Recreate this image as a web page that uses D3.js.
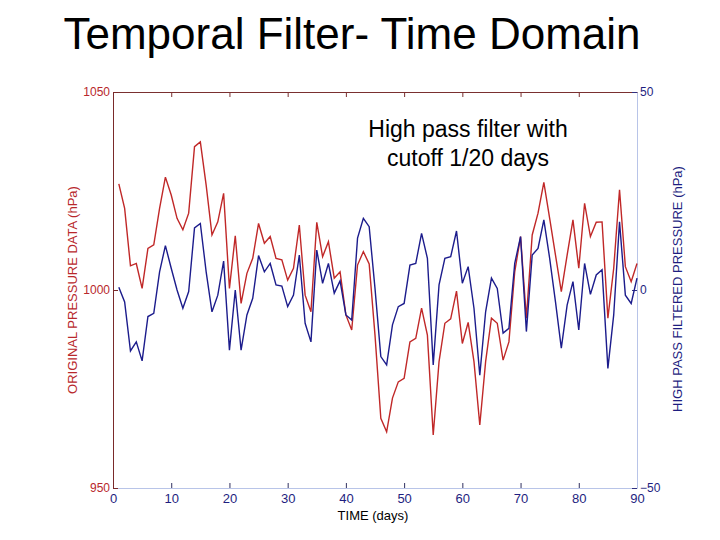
<!DOCTYPE html>
<html>
<head>
<meta charset="utf-8">
<script src="https://cdn.jsdelivr.net/npm/d3@7"></script>
<style>
  body { margin: 0; background: #fff; }
  svg { font-family: "Liberation Sans", Arial, sans-serif; }
</style>
</head>
<body>
<svg id="chart" width="720" height="540"></svg>
<script>
// 元の気圧データ (hPa), day 1..90
var original = [
  1026.8, 1020.6, 1006.1, 1006.7, 1000.4, 1010.5, 1011.4, 1020.6, 1028.5, 1024.0,
  1018.1, 1015.2, 1019.4, 1036.2, 1037.4, 1026.5, 1013.9, 1017.2, 1024.4, 1000.4,
  1013.7, 996.6, 1004.2, 1008.0, 1016.8, 1011.8, 1013.5, 1008.0, 1007.6, 1002.5,
  1005.5, 1016.4, 998.7, 994.5, 1017.1, 1008.4, 1012.2, 1003.0, 1004.6, 993.7,
  989.9, 1006.3, 1009.7, 1006.6, 988.6, 967.6, 964.2, 972.7, 976.8, 977.7,
  986.9, 987.8, 995.4, 988.6, 963.4, 981.9, 991.6, 992.7, 999.7, 986.5,
  991.8, 981.9, 965.9, 981.9, 992.9, 991.6, 982.3, 986.9, 1004.6, 1013.5,
  992.9, 1013.9, 1019.4, 1027.2, 1018.1, 1008.8, 999.6, 1008.8, 1017.7, 1005.5,
  1021.9, 1013.5, 1017.1, 1017.2, 992.9, 1005.5, 1025.3, 1005.9, 1002.1, 1006.7
];

// ハイパスフィルタ後 (hPa)
var filtered = [
  0.7, -3.0, -15.4, -13.1, -17.9, -6.7, -5.9, 4.6, 11.2, 5.5,
  0.0, -4.6, -0.4, 15.7, 16.8, 4.6, -5.5, -1.3, 7.3, -15.2,
  0.0, -15.2, -6.3, -2.1, 8.7, 4.6, 6.7, 1.3, 1.0, -4.2,
  -1.3, 8.8, -8.4, -13.1, 10.1, 1.7, 6.7, -0.8, 2.3, -6.3,
  -7.6, 13.1, 18.1, 16.0, 0.4, -16.8, -18.9, -8.8, -4.2, -3.4,
  6.3, 6.7, 14.3, 8.0, -18.9, 1.3, 8.0, 8.4, 14.9, 1.7,
  5.9, -4.6, -21.5, -5.5, 3.0, 0.4, -10.9, -9.7, 6.7, 13.5,
  -10.5, 8.8, 10.5, 17.7, 8.0, -3.0, -14.7, -3.8, 2.1, -10.1,
  6.7, -1.1, 3.8, 5.1, -19.8, -6.3, 17.2, -1.3, -3.4, 3.0
];

var days = d3.range(1, 91);

// 目盛り
var xTicks = [0, 10, 20, 30, 40, 50, 60, 70, 80, 90];
var leftTicks = [950, 1000, 1050];
var rightTicks = [-50, 0, 50];

var redLine = "#c02828";
var blueLine = "#1c1c8c";
var redText = "#b8282c";
var blueText = "#1e1e80";

var svg = d3.select("#chart");

var x = d3.scaleLinear().domain([0, 90]).range([113, 637]);
var yL = d3.scaleLinear().domain([950, 1050]).range([488, 92]);
var yR = d3.scaleLinear().domain([-50, 50]).range([488, 92]);

// タイトル
svg.append("text")
  .attr("x", 352)
  .attr("y", 49)
  .attr("text-anchor", "middle")
  .attr("font-size", 44)
  .attr("fill", "#000")
  .text("Temporal Filter- Time Domain");

// 軸
var axB = svg.append("g")
  .attr("transform", "translate(0,488)")
  .call(d3.axisBottom(x).tickValues(xTicks).tickSize(-5).tickSizeOuter(0).tickPadding(6));
axB.select(".domain").attr("stroke", "#b8c4e8");
axB.selectAll(".tick line").attr("stroke", "#303060");
axB.selectAll(".tick text").attr("fill", blueText).attr("font-size", 13).attr("font-family", "Liberation Sans");

var axT = svg.append("g")
  .attr("transform", "translate(0,92)")
  .call(d3.axisTop(x).tickValues(xTicks).tickSize(-5).tickSizeOuter(0).tickFormat(""));
axT.select(".domain").attr("stroke", "#7a3030");
axT.selectAll(".tick line").attr("stroke", "#7a3030");

var axL = svg.append("g")
  .attr("transform", "translate(113,0)")
  .call(d3.axisLeft(yL).tickValues(leftTicks).tickFormat(d3.format("d")).tickSize(-5).tickSizeOuter(0).tickPadding(3));
axL.select(".domain").attr("stroke", "#7a2a2a");
axL.selectAll(".tick line").attr("stroke", "#7a2a2a");
axL.selectAll(".tick text").attr("fill", redText).attr("font-size", 12).attr("font-family", "Liberation Sans");

var axR = svg.append("g")
  .attr("transform", "translate(637,0)")
  .call(d3.axisRight(yR).tickValues(rightTicks).tickFormat(d3.format("d")).tickSize(-5).tickSizeOuter(0).tickPadding(3));
axR.select(".domain").attr("stroke", "#b8c4e8");
axR.selectAll(".tick line").attr("stroke", "#303080");
axR.selectAll(".tick text").attr("fill", blueText).attr("font-size", 12).attr("font-family", "Liberation Sans");

// 折れ線
var lineL = d3.line()
  .x(function(d, i) { return x(days[i]); })
  .y(function(d) { return yL(d); });
var lineR = d3.line()
  .x(function(d, i) { return x(days[i]); })
  .y(function(d) { return yR(d); });

svg.append("path")
  .datum(original)
  .attr("d", lineL)
  .attr("fill", "none")
  .attr("stroke", redLine)
  .attr("stroke-width", 1.4);

svg.append("path")
  .datum(filtered)
  .attr("d", lineR)
  .attr("fill", "none")
  .attr("stroke", blueLine)
  .attr("stroke-width", 1.4);

// 注記
var note = svg.append("text")
  .attr("text-anchor", "middle")
  .attr("font-size", 23)
  .attr("fill", "#000");
note.append("tspan").attr("x", 468).attr("y", 137).text("High pass filter with");
note.append("tspan").attr("x", 468).attr("y", 166).text("cutoff 1/20 days");

// 軸ラベル
svg.append("text")
  .attr("x", 373)
  .attr("y", 520)
  .attr("text-anchor", "middle")
  .attr("font-size", 13)
  .attr("fill", "#000")
  .text("TIME (days)");

svg.append("text")
  .attr("transform", "translate(77,290) rotate(-90)")
  .attr("text-anchor", "middle")
  .attr("font-size", 13)
  .attr("fill", redText)
  .text("ORIGINAL PRESSURE DATA (hPa)");

svg.append("text")
  .attr("transform", "translate(682,289) rotate(-90)")
  .attr("text-anchor", "middle")
  .attr("font-size", 13)
  .attr("fill", blueText)
  .text("HIGH PASS FILTERED PRESSURE (hPa)");
</script>
</body>
</html>
